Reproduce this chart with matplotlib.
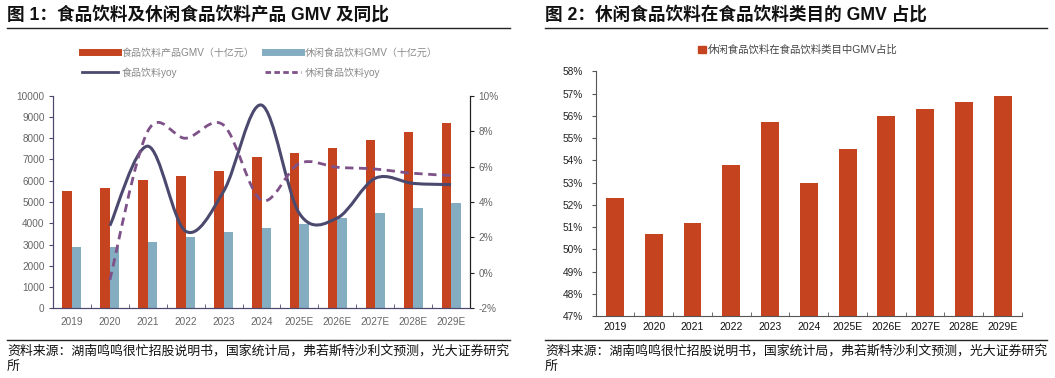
import numpy as np
import matplotlib
matplotlib.use("Agg")
import matplotlib.pyplot as plt
from matplotlib.path import Path
from matplotlib.patches import PathPatch, Patch
from matplotlib.lines import Line2D
from matplotlib.ticker import FuncFormatter

plt.rcParams['font.family'] = ['Liberation Sans', 'Noto Sans CJK SC']

# data
years = ['2019', '2020', '2021', '2022', '2023', '2024',
         '2025E', '2026E', '2027E', '2028E', '2029E']
food_gmv = [5500, 5650, 6050, 6200, 6480, 7100, 7300, 7520, 7920, 8300, 8720]
snack_gmv = [2900, 2870, 3120, 3340, 3600, 3760, 3980, 4230, 4470, 4720, 4970]
# yoy starts at 2020
food_yoy = [2.66, 7.15, 2.35, 4.6, 9.47, 3.35, 3.1, 5.34, 5.05, 4.98]
snack_yoy = [-0.4, 8.0, 7.6, 8.34, 4.1, 6.18, 5.96, 5.86, 5.62, 5.5]
share = [52.3, 50.7, 51.2, 53.8, 55.7, 53.0, 54.5, 56.0, 56.3, 56.6, 56.9]

RED = '#C5441F'
BLUE = '#84ADC1'
NAVY = '#4B4A6E'
PURPLE = '#7E5188'
W, H = 1055, 378


def smooth_path(xs, ys):
    # excel-style smoothed line (catmull-rom as bezier)
    pts = np.column_stack([xs, ys]).astype(float)
    n = len(pts)
    verts = [pts[0]]
    codes = [Path.MOVETO]
    for i in range(n - 1):
        p0 = pts[i - 1] if i > 0 else pts[i]
        p1 = pts[i]
        p2 = pts[i + 1]
        p3 = pts[i + 2] if i + 2 < n else pts[i + 1]
        verts += [p1 + (p2 - p0) / 6, p2 - (p3 - p1) / 6, p2]
        codes += [Path.CURVE4] * 3
    return Path(verts, codes)


fig = plt.figure(figsize=(W / 100, H / 100), dpi=100)


def fx(px):
    return px / W


def fy(py):
    return 1 - py / H


# titles, rules, sources
fig.text(fx(7), fy(15), '图 1：食品饮料及休闲食品饮料产品 GMV 及同比',
         fontsize=12.7, weight='bold', va='center', color='#111111')
fig.text(fx(545), fy(15), '图 2：休闲食品饮料在食品饮料类目的 GMV 占比',
         fontsize=12.7, weight='bold', va='center', color='#111111')
for x0, x1 in [(7, 510), (545, 1047)]:
    fig.add_artist(Line2D([fx(x0), fx(x1)], [fy(28.3), fy(28.3)], color='#222222', lw=1))
    fig.add_artist(Line2D([fx(x0), fx(x1)], [fy(340), fy(340)], color='#222222', lw=1))
    fig.text(fx(x0), fy(351), '资料来源：湖南鸣鸣很忙招股说明书，国家统计局，弗若斯特沙利文预测，光大证券研究',
             fontsize=9.3, va='center', color='#111111')
    fig.text(fx(x0), fy(368), '所', fontsize=9.3, va='center', color='#111111')

# ---- left chart ----
ax = fig.add_axes([fx(53), fy(308.3), fx(417), 212.6 / H])
ax2 = ax.twinx()
x = np.arange(len(years))
bw = 0.25
ax.bar(x - bw / 2, food_gmv, bw, color=RED, zorder=2)
ax.bar(x + bw / 2, snack_gmv, bw, color=BLUE, zorder=2)
ax.set_xlim(-0.5, len(years) - 0.5)
ax.set_ylim(0, 10000)
ax.set_yticks(range(0, 10001, 1000))
ax.set_xticks(x)
ax.set_xticklabels(years)
ax.set_xticks(np.arange(-0.5, len(years), 1), minor=True)
ax.tick_params(axis='x', which='major', length=0, pad=6, labelsize=7.2, colors='#666666')
ax.tick_params(axis='x', which='minor', direction='in', length=3, color=NAVY)
ax.tick_params(axis='y', direction='out', length=3, labelsize=7.2, labelcolor='#666666', color=NAVY, pad=3)

xl = x[1:]
ax2.add_patch(PathPatch(smooth_path(xl, food_yoy), fill=False, ec=NAVY, lw=2.2, zorder=3))
ax2.add_patch(PathPatch(smooth_path(xl, snack_yoy), fill=False, ec=PURPLE, lw=2.0,
                        ls=(0, (3, 2)), zorder=3))
ax2.set_ylim(-2, 10)
ax2.set_yticks(range(-2, 11, 2))
ax2.yaxis.set_major_formatter(FuncFormatter(lambda v, p: '%d%%' % v))
ax2.tick_params(axis='y', direction='out', length=3, labelsize=7.2, labelcolor='#666666', color='#222222', pad=3)
for a in (ax, ax2):
    a.spines['top'].set_visible(False)
ax.spines['left'].set_color(NAVY)
ax.spines['bottom'].set_color(NAVY)
ax2.spines['left'].set_color(NAVY)
ax2.spines['bottom'].set_color(NAVY)
ax2.spines['right'].set_color('#222222')

handles = [Line2D([], [], color=RED, lw=5),
           Line2D([], [], color=NAVY, lw=2),
           Line2D([], [], color=BLUE, lw=5),
           Line2D([], [], color=PURPLE, lw=2, ls=(0, (2, 1.2)))]
labels = ['食品饮料产品GMV（十亿元）', '食品饮料yoy', '休闲食品饮料GMV（十亿元）', '休闲食品饮料yoy']
fig.legend(handles, labels, ncol=2, loc='center', bbox_to_anchor=(fx(260), fy(62.5)),
           frameon=False, fontsize=7.2, labelcolor='#888888', handlelength=3.6,
           handletextpad=0.4, columnspacing=1.0, labelspacing=0.95)

# ---- right chart ----
bx = fig.add_axes([fx(595.7), fy(316), fx(426.3), 244.7 / H])
bx.bar(x, share, 0.46, color=RED, zorder=2)
bx.set_xlim(-0.5, len(years) - 0.5)
bx.set_ylim(47, 58)
bx.set_yticks(range(47, 59))
bx.yaxis.set_major_formatter(FuncFormatter(lambda v, p: '%d%%' % v))
bx.set_xticks(x)
bx.set_xticklabels(years)
bx.set_xticks(np.arange(-0.5, len(years), 1), minor=True)
bx.tick_params(axis='x', which='major', length=0, pad=4, labelsize=7.5, colors='#111111')
bx.tick_params(axis='x', which='minor', direction='in', length=3, color='#555555')
bx.tick_params(axis='y', direction='out', length=3, labelsize=7.3, labelcolor='#222222', color='#555555', pad=6)
for s in ['top', 'right']:
    bx.spines[s].set_visible(False)
for s in ['left', 'bottom']:
    bx.spines[s].set_color('#555555')
fig.legend([Patch(color=RED)], ['休闲食品饮料在食品饮料类目中GMV占比'], loc='center',
           bbox_to_anchor=(fx(798), fy(50)), frameon=False, fontsize=7.5, labelcolor='#444444',
           handlelength=0.7, handleheight=0.7, handletextpad=0.2)

fig.savefig('out.png', dpi=100)
